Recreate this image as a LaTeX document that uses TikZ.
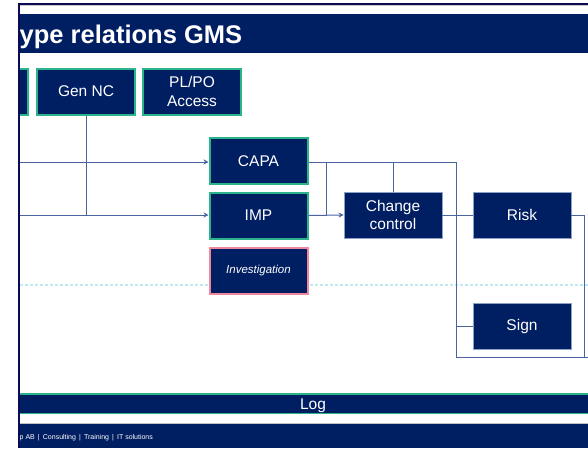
\documentclass[tikz,border=0pt]{standalone}
\usepackage{fontspec}
\setmainfont{Liberation Sans}
\usetikzlibrary{arrows.meta}
\definecolor{navy}{RGB}{0,30,98}
\definecolor{teal}{RGB}{43,179,140}
\definecolor{pinkb}{RGB}{240,135,156}
\definecolor{conn}{RGB}{75,100,160}
\definecolor{dotc}{RGB}{190,234,240}
\definecolor{edge}{RGB}{11,11,85}
\definecolor{thinb}{RGB}{140,160,200}
\tikzset{
  basebox/.style={rectangle, fill=navy, text=white, align=center, inner sep=0pt,
    minimum width=98pt, minimum height=46pt, font=\fontsize{15.5}{18.5}\selectfont},
  gbox/.style={basebox, draw=teal, line width=2pt},
  pbox/.style={basebox, draw=pinkb, line width=2pt, font=\itshape\fontsize{11.5}{14}\selectfont},
  sbox/.style={basebox, draw=thinb, line width=0.8pt, minimum width=98pt, minimum height=46pt},
  wire/.style={draw=conn, line width=1pt},
  arr/.style={wire, -{Stealth[length=5pt,width=5pt]}},
}
\begin{document}
\begin{tikzpicture}[x=1pt,y=-1pt]
\useasboundingbox (0,0) rectangle (588,448);
\fill[white] (0,0) rectangle (588,448);
% top line
\draw[edge, line width=1.5pt] (19,4) -- (588,4);
\draw[black!20, line width=0.8pt] (19,5.8) -- (588,5.8);
% title bar
\fill[navy] (19,14) rectangle (588,53);
\node[anchor=base west, text=white, inner sep=0pt, font=\bfseries\fontsize{25.5}{28}\selectfont] (title) at (19.5,43.5) {ype relations GMS};
% dotted guide
\draw[dotc, line width=1.6pt, dash pattern=on 3pt off 2pt] (20,285) -- (588,285);
% partial box
\begin{scope}
\clip (20,0) rectangle (588,448);
\node[gbox] (gen0) at (-21,91.5) {};
\end{scope}
\node[gbox] (gennc) at (86,91.5) {Gen NC};
\node[gbox] (plpo) at (192,91.5) {PL/PO\\Access};
\node[gbox] (capa) at (258.5,161) {CAPA};
\node[gbox] (imp) at (258.5,215.5) {IMP};
\node[pbox] (inv) at (258.5,270.5) {Investigation};
\node[sbox] (cc) at (393,215) {Change\\control};
\node[sbox] (risk) at (522,215) {Risk};
\node[sbox] (sign) at (522,326) {Sign};
% connectors
\coordinate (inA) at (20,162);
\coordinate (inB) at (20,215);
\coordinate (j1) at (326,162);
\coordinate (j2) at (393,162);
\coordinate (j3) at (456,162);
\coordinate (j4) at (456,357);
\coordinate (j5) at (584,357);
\coordinate (j6) at (456,326);
\coordinate (rEnd) at (588,357);
\draw[arr] (inA) -- (capa.west |- inA);
\draw[arr] (inB) -- (imp.west |- inB);
\draw[wire] (gennc.south) -- (gennc.south |- inB);
\draw[wire] (capa.east |- j1) -- (j3) -- (j4) -- (j5) -- (j5 |- risk.east) -- (risk.east);
\draw[wire] (j5) -- (rEnd);
\draw[wire] (j2) -- (cc.north);
\draw[wire] (j1) -- (j1 |- imp.east);
\draw[arr] (imp.east) -- (cc.west);
\draw[wire] (cc.east) -- (risk.west);
\draw[wire] (j6) -- (sign.west);
% log bar
\fill[navy] (19,394) rectangle (588,414);
\draw[teal, line width=1.5pt] (19,394) -- (588,394);
\draw[teal, line width=1.5pt] (19,413.5) -- (588,413.5);
\node[anchor=base, text=white, inner sep=0pt, font=\fontsize{15.5}{18}\selectfont] (log) at (313,409) {Log};
% footer
\draw[black!25, line width=0.8pt] (19,423.5) -- (588,423.5);
\fill[navy] (19,424) rectangle (588,448);
\node[anchor=base west, text=white, inner sep=0pt, font=\fontsize{7}{8}\selectfont] (foot) at (19.5,439) {p AB \,|\, Consulting \,|\, Training \,|\, IT solutions};
% left edge
\draw[edge, line width=2pt] (19,3.3) -- (19,448);
\end{tikzpicture}
\end{document}
